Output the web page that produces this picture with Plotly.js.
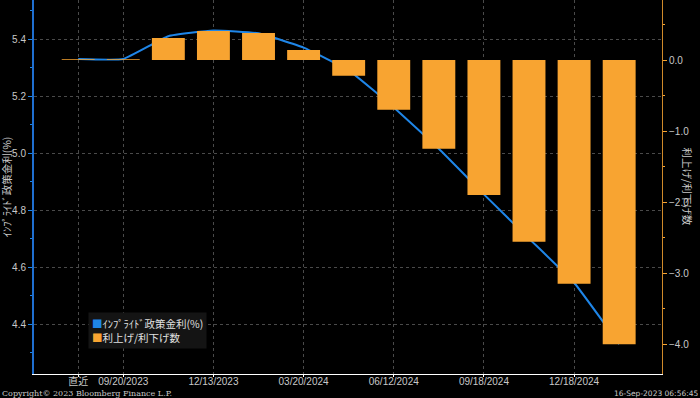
<!DOCTYPE html>
<html>
<head>
<meta charset="utf-8">
<script src="https://cdn.plot.ly/plotly-3.0.1.min.js"></script>
<style>
html,body{margin:0;padding:0;background:#000;}
#chart{width:700px;height:398px;}
</style>
</head>
<body>
<div id="chart"></div>
<script>
// Meeting dates (categories)
const categories = ['直近','09/20/2023','11/01/2023','12/13/2023','01/31/2024','03/20/2024','05/01/2024','06/12/2024','07/31/2024','09/18/2024','11/07/2024','12/18/2024','01/29/2025'];
// Implied policy rate (%)
const impliedRate = [5.33, 5.33, 5.41, 5.43, 5.42, 5.37, 5.29, 5.16, 5.015, 4.855, 4.70, 4.545, 4.33];
// Number of hikes / cuts
const hikesCuts = [0.01, 0.01, 0.31, 0.41, 0.38, 0.14, -0.22, -0.70, -1.25, -1.90, -2.56, -3.15, -4.00];
// Labeled ticks
const tickCats = ['直近','09/20/2023','12/13/2023','03/20/2024','06/12/2024','09/18/2024','12/18/2024'];
const tickLabels = ['直近','09/20/2023','12/13/2023','03/20/2024','06/12/2024','09/18/2024','12/18/2024'];
const seriesNames = ['ｲﾝﾌﾟﾗｲﾄﾞ政策金利(%)', '利上げ/利下げ数'];
const seriesColors = ['#1f86e8', '#f8a431'];

const jp = '"Noto Sans CJK JP", "Liberation Sans", sans-serif';
const tickFont = {family: '"Liberation Sans", "Noto Sans CJK JP", sans-serif', size: 10, color: '#c8c8c8'};

const traces = [
  {
    type: 'bar', name: seriesNames[1], x: categories, y: hikesCuts, yaxis: 'y2',
    marker: {color: seriesColors[1]}, width: 0.73
  },
  {
    type: 'scatter', mode: 'lines', name: seriesNames[0], x: categories, y: impliedRate,
    line: {color: seriesColors[0], width: 2, shape: 'spline', smoothing: 0.35}
  }
];

const legendText = seriesNames.map((n, i) =>
  '<span style="color:' + seriesColors[i] + '">■</span>' + n).join('<br>');

const layout = {
  width: 700, height: 398,
  paper_bgcolor: '#000', plot_bgcolor: '#000',
  margin: {l: 34, r: 38, t: 0, b: 24},
  showlegend: false,
  xaxis: {
    type: 'category', range: [-0.98, 12.95],
    tickmode: 'array', tickvals: tickCats, ticktext: tickLabels,
    tickfont: {family: '"Liberation Sans", "Noto Sans CJK JP", sans-serif', size: 10, color: '#c8c8c8'},
    ticks: 'outside', ticklen: 2, tickcolor: '#ffffff', ticklabelstandoff: -4,
    showline: true, linecolor: '#ffffff', linewidth: 1,
    showgrid: true, gridcolor: '#4a4a4a', griddash: 'dot', gridwidth: 1,
    zeroline: false, fixedrange: true
  },
  yaxis: {
    range: [4.225, 5.537], tickvals: [4.4, 4.6, 4.8, 5.0, 5.2, 5.4],
    tickformat: '.1f', tickfont: tickFont,
    ticks: 'outside', ticklen: 4, tickcolor: '#1f86e8',
    minor: {dtick: 0.1, ticklen: 2, tickcolor: '#1f86e8', ticks: 'outside', showgrid: false},
    showline: true, linecolor: '#1f6fd0', linewidth: 2,
    showgrid: true, gridcolor: '#4a4a4a', griddash: 'dot', gridwidth: 1,
    zeroline: false
  },
  yaxis2: {
    overlaying: 'y', side: 'right',
    range: [-4.42, 0.845], tickvals: [0, -1, -2, -3, -4],
    tickformat: '.1f', tickfont: tickFont,
    ticks: 'outside', ticklen: 4, tickcolor: '#f8a431',
    minor: {dtick: 0.5, ticklen: 2, tickcolor: '#f8a431', ticks: 'outside', showgrid: false},
    showline: true, linecolor: '#d08a2a', linewidth: 1,
    showgrid: false, zeroline: false
  },
  annotations: [
    {text: legendText, xref: 'paper', yref: 'paper', x: 0.086, y: 0.165,
     xanchor: 'left', yanchor: 'top', align: 'left', showarrow: false,
     bgcolor: '#141414', borderpad: 3,
     font: {family: jp, size: 10.5, color: '#e0e0e0'}},
    {text: seriesNames[0], xref: 'paper', yref: 'paper', x: -0.044, y: 0.5,
     xanchor: 'center', yanchor: 'middle', textangle: -90, showarrow: false,
     font: {family: jp, size: 10.5, color: '#c8c8c8'}},
    {text: seriesNames[1], xref: 'paper', yref: 'paper', x: 1.042, y: 0.5,
     xanchor: 'center', yanchor: 'middle', textangle: 90, showarrow: false,
     font: {family: jp, size: 10.5, color: '#c8c8c8'}},
    {text: 'Copyright© 2023 Bloomberg Finance L.P.', xref: 'paper', yref: 'paper', x: -0.054, y: -0.064,
     xanchor: 'left', yanchor: 'bottom', yshift: -2, showarrow: false,
     font: {family: '"DejaVu Serif", serif', size: 8, color: '#c8c8c8'}},
    {text: '16-Sep-2023 06:56:45', xref: 'paper', yref: 'paper', x: 1.06, y: -0.064,
     xanchor: 'right', yanchor: 'bottom', yshift: -2, showarrow: false,
     font: {family: '"DejaVu Sans", sans-serif', size: 7.5, color: '#c8c8c8'}}
  ]
};

Plotly.newPlot('chart', traces, layout, {displayModeBar: false, staticPlot: true});
</script>
</body>
</html>
